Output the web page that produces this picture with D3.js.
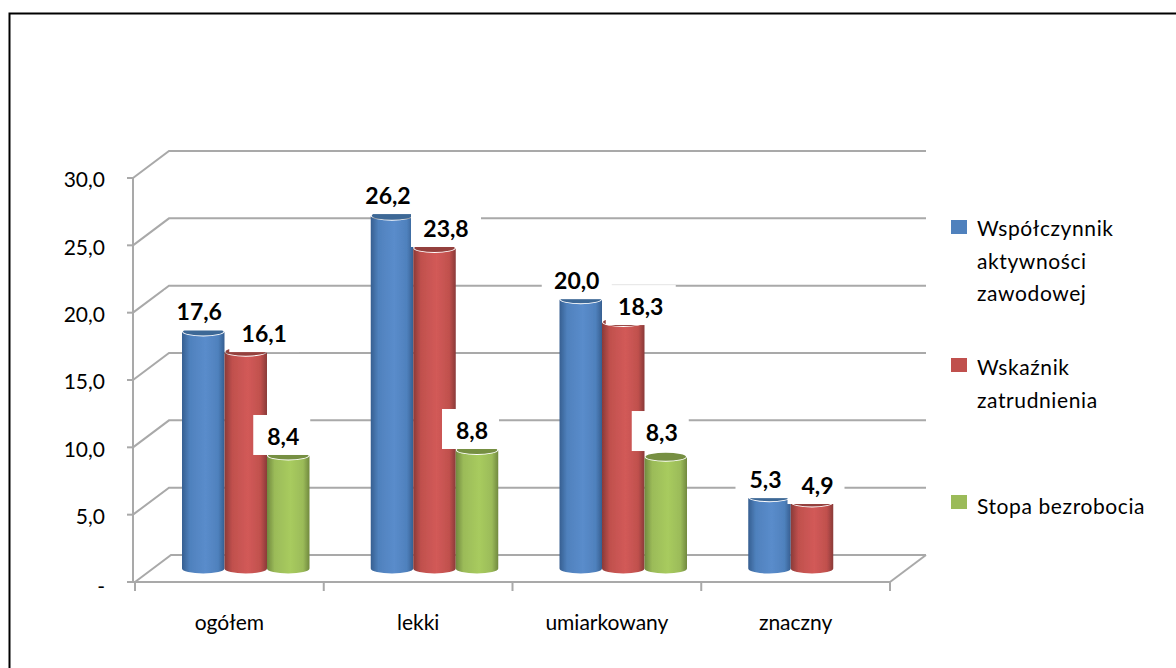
<!DOCTYPE html>
<html lang="pl">
<head>
<meta charset="utf-8">
<script src="https://cdn.jsdelivr.net/npm/d3@7"></script>
<style>
html,body{margin:0;padding:0;background:#fff;overflow:hidden}
svg{display:block}
text{font-family:Lato,"Open Sans",sans-serif;fill:#000}
</style>
</head>
<body>
<svg id="chart" width="1176" height="668"></svg>
<script>
const categories = ["ogółem", "lekki", "umiarkowany", "znaczny"];
const seriesNames = ["aktywnosc", "zatrudnienie", "bezrobocie"];
const legendLines = [["Współczynnik", "aktywności", "zawodowej"], ["Wskaźnik", "zatrudnienia"], ["Stopa bezrobocia"]];
const aktywnosc = [17.6, 26.2, 20.0, 5.3];
const zatrudnienie = [16.1, 23.8, 18.3, 4.9];
const bezrobocie = [8.4, 8.8, 8.3, null];
const yTicks = [0, 5, 10, 15, 20, 25, 30];

const seriesValues = [aktywnosc, zatrudnienie, bezrobocie];
// hand-placed label offsets, relative to the top of each bar
const labelDx = [[-4, -4, -4, -4], [18.5, 11.5, 17.5, 5.5], [-5, -5, -4, 0]];
const labelDy = [[19, 19.6, 18, 17], [17.6, 19, 15, 16.5], [18.4, 19, 23.7, 0]];
const palette = [
  {edge:"#365f91", mid:"#5a8ccb", top:"#3d6796", key:"#4f81bd"},
  {edge:"#8a3a38", mid:"#d25a58", top:"#943f3c", key:"#c0504d"},
  {edge:"#71893f", mid:"#a8cb5e", top:"#768f43", key:"#9bbb59"}
];

const svg = d3.select("#chart");
const depth = {x: 36, y: -27};
const y = d3.scaleLinear().domain([0, 30]).range([582, 178]);
const x0 = d3.scaleBand().domain(categories).range([135, 890]);
const x1 = d3.scaleBand().domain(seriesNames).range([47, 174.5]);
const fmt = v => d3.format(".1f")(v).replace(".", ",");

const defs = svg.append("defs");
defs.append("filter").attr("id", "soft").attr("x", "-5%").attr("y", "-5%").attr("width", "110%").attr("height", "110%")
  .append("feGaussianBlur").attr("stdDeviation", 0.55);
palette.forEach((p, i) => {
  const g = defs.append("linearGradient").attr("id", "cyl" + i).attr("x1", 0).attr("x2", 1).attr("y1", 0).attr("y2", 0);
  [[0, p.edge], [0.18, p.key], [0.55, p.mid], [0.85, p.key], [1, p.edge]].forEach(s =>
    g.append("stop").attr("offset", s[0]).attr("stop-color", s[1]));
});

// frame: only the left and top edges are visible
svg.append("path").attr("d", "M9.5,668V13.5H1176").attr("fill", "none").attr("stroke", "#000").attr("stroke-width", 2);

// walls, floor and axes
const gridColor = "#a9a9a9";
const soft = svg.append("g").attr("filter", "url(#soft)");
const grid = soft.append("g").attr("fill", "none").attr("stroke", gridColor).attr("stroke-width", 2);
yTicks.forEach(t => {
  const yy = y(t);
  const xStart = t === 0 ? x0.range()[0] : x0.range()[0] - 2;
  grid.append("path").attr("d", d3.line()([[xStart, yy], [xStart + depth.x, yy + depth.y], [x0.range()[1] + depth.x, yy + depth.y]]));
});
grid.append("path").attr("d", d3.line()([[x0.range()[1], y(0)], [x0.range()[1] + depth.x, y(0) + depth.y]]));
grid.append("path").attr("d", d3.line()([[x0.range()[0] - 2, y(30)], [x0.range()[0] - 2, y(0)], [x0.range()[1], y(0)]]));
yTicks.forEach(t => grid.append("path").attr("d", d3.line()([[x0.range()[0] - 8, y(t)], [x0.range()[0] - 2, y(t)]])));
categories.concat([null]).forEach(c => {
  const xx = c === null ? x0.range()[1] : x0(c);
  grid.append("path").attr("d", d3.line()([[xx, y(0)], [xx, y(0) + 9]]));
});

// cylinders
const rx = x1.bandwidth() / 2, ry = 5;
const base = y(0) + depth.y / 2;
const zeroOffset = y(0) - base;
const barsG = svg.append("g").attr("filter", "url(#soft)");
categories.forEach((c, ci) => {
  seriesNames.forEach((s, si) => {
    const v = seriesValues[si][ci];
    if (v === null) return;
    const left = x0(c) + x1(s);
    const top = y(v) - zeroOffset;
    const right = left + x1.bandwidth();
    barsG.append("path")
      .attr("d", `M${left},${top}L${left},${base}A${rx},${ry} 0 0 0 ${right},${base}L${right},${top}A${rx},${ry} 0 0 1 ${left},${top}Z`)
      .attr("fill", `url(#cyl${si})`);
    barsG.append("ellipse").attr("cx", left + rx).attr("cy", top).attr("rx", rx - 1).attr("ry", ry - 1)
      .attr("fill", palette[si].top);
  });
});

// value labels with white backing
const labels = svg.append("g");
const items = [];
seriesNames.forEach((s, si) => categories.forEach((c, ci) => {
  const v = seriesValues[si][ci];
  if (v === null) return;
  items.push({
    text: fmt(v),
    cx: x0(c) + x1(s) + rx + labelDx[si][ci],
    cy: y(v) - zeroOffset - labelDy[si][ci]
  });
}));
labels.selectAll("rect").data(items).join("rect")
  .attr("x", d => d.cx - (d.text.length > 3 ? 35 : 30))
  .attr("y", d => d.cy - 22)
  .attr("width", d => d.text.length > 3 ? 70 : 57)
  .attr("height", 40)
  .attr("fill", "#fff");
labels.selectAll("text").data(items).join("text")
  .attr("x", d => d.cx).attr("y", d => d.cy + 8)
  .attr("text-anchor", "middle")
  .attr("font-size", 23).attr("font-weight", 700)
  .text(d => d.text);

// axis labels
const yAxis = d3.axisLeft(y).tickValues(yTicks).tickSize(0).tickPadding(0)
  .tickFormat(v => v === 0 ? "-" : fmt(v));
const yG = svg.append("g").attr("transform", "translate(105,0)").call(yAxis);
yG.select(".domain").remove();
yG.selectAll("text").attr("font-size", 21).attr("dy", "0.42em").style("font-family", "Lato,'Open Sans',sans-serif");
yG.selectAll(".tick").filter(d => d === 0).select("text").attr("dy", "0.55em");

const xAxis = d3.axisBottom(x0).tickSize(0).tickPadding(0);
const xG = svg.append("g").attr("transform", "translate(0,630)").call(xAxis);
xG.select(".domain").remove();
xG.selectAll("text").attr("font-size", 21).attr("dy", 0).style("font-family", "Lato,'Open Sans',sans-serif").attr("y", 0);

// legend
const legendTop = [220, 358, 495];
const legendBase = [236, 375, 514];
const legendStep = 32.5;
const legend = svg.append("g");
legendLines.forEach((lines, i) => {
  legend.append("rect").attr("x", 951).attr("y", legendTop[i]).attr("width", 16).attr("height", 14).attr("fill", palette[i].key);
  lines.forEach((ln, j) => {
    legend.append("text").attr("x", 977).attr("y", legendBase[i] + j * legendStep)
      .attr("font-size", 21).attr("letter-spacing", 0.6).text(ln);
  });
});
</script>
</body>
</html>
